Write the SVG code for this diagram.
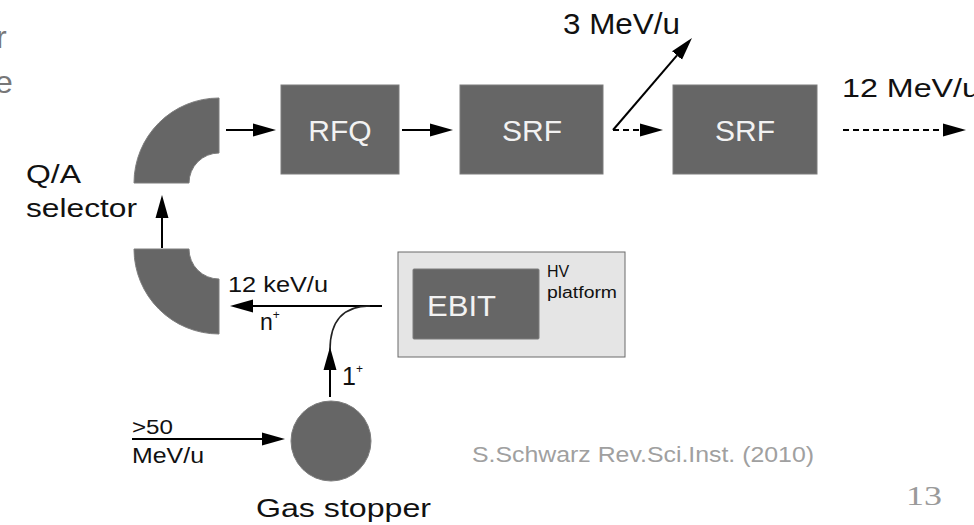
<svg xmlns="http://www.w3.org/2000/svg" width="974" height="525" viewBox="0 0 974 525">
<style>
.lbl{font-family:"Liberation Sans",Arial,Helvetica,sans-serif;fill:#111}
.inbox{font-family:"Liberation Sans",Arial,Helvetica,sans-serif;fill:#f2f2f2;font-size:30px}
.dark{fill:#666666;stroke:#7c7c7c;stroke-width:1}
.ln{stroke:#000;stroke-width:2;fill:none}
.dash{stroke-dasharray:6 4}
.note{font-family:"Liberation Sans",Arial,sans-serif;fill:#a0a0a0}
</style>
<defs>
<marker id="ah" markerUnits="userSpaceOnUse" markerWidth="24" markerHeight="14" refX="0" refY="7" orient="auto">
<path d="M0,0.5 L23,7 L0,13.5 Z" fill="#000"/>
</marker>
</defs>
<rect width="974" height="525" fill="#ffffff"/>

<g id="slide-text-cut">
<text x="-4" y="48" font-family="Liberation Sans,Arial,sans-serif" font-size="32" fill="#777">r</text>
<text x="-5" y="93" font-family="Liberation Sans,Arial,sans-serif" font-size="32" fill="#777">e</text>
</g>

<g id="qa-selector-top">
<path class="dark" d="M134,183 A85,85 0 0 1 219,98 L219,153 A30,30 0 0 0 189,183 Z"/>
</g>
<g id="qa-selector-bottom">
<path class="dark" d="M134,249 A85,85 0 0 0 219,334 L219,279 A30,30 0 0 1 189,249 Z"/>
</g>
<g id="qa-label">
<text class="lbl" x="26" y="183" font-size="25" textLength="55" lengthAdjust="spacingAndGlyphs">Q/A</text>
<text class="lbl" x="26" y="217" font-size="25" textLength="111" lengthAdjust="spacingAndGlyphs">selector</text>
</g>

<g id="rfq">
<rect class="dark" x="281" y="85" width="118" height="89"/>
<text class="inbox" x="340" y="141" text-anchor="middle">RFQ</text>
</g>
<g id="srf1">
<rect class="dark" x="460" y="85" width="143" height="89"/>
<text class="inbox" x="532" y="141" text-anchor="middle">SRF</text>
</g>
<g id="srf2">
<rect class="dark" x="673" y="85" width="144" height="89"/>
<text class="inbox" x="745" y="141" text-anchor="middle">SRF</text>
</g>

<g id="hv-platform">
<rect x="398" y="252" width="227" height="105" fill="#e5e5e5" stroke="#6a6a6a" stroke-width="1"/>
<text class="lbl" x="547" y="277" font-size="16">HV</text>
<text class="lbl" x="547" y="298" font-size="16" textLength="70" lengthAdjust="spacingAndGlyphs">platform</text>
</g>
<g id="ebit">
<rect class="dark" x="413" y="269" width="126" height="70" rx="1"/>
<text class="inbox" x="427" y="316" font-size="31" textLength="69" lengthAdjust="spacingAndGlyphs">EBIT</text>
</g>

<g id="gas-stopper">
<circle cx="331" cy="441" r="40" fill="#666666" stroke="#7c7c7c" stroke-width="1"/>
<text class="lbl" x="256" y="517" font-size="26" textLength="175" lengthAdjust="spacingAndGlyphs">Gas stopper</text>
</g>

<g id="connectors">
<line class="ln" x1="226" y1="130" x2="253" y2="130" marker-end="url(#ah)"/>
<line class="ln" x1="402" y1="130" x2="430" y2="130" marker-end="url(#ah)"/>
<line class="ln dash" x1="613" y1="130" x2="640" y2="130" marker-end="url(#ah)"/>
<line class="ln" x1="613" y1="130" x2="677" y2="55.4" marker-end="url(#ah)"/>
<line class="ln dash" x1="843" y1="130" x2="943" y2="130" marker-end="url(#ah)"/>
<line class="ln" x1="162" y1="248" x2="162" y2="218" marker-end="url(#ah)"/>
<line class="ln" x1="382" y1="306" x2="253" y2="306" marker-end="url(#ah)"/>
<path d="M330,350 C330,322 342,306 370,306" fill="none" stroke="#222" stroke-width="1.6"/>
<line class="ln" x1="330" y1="397" x2="330" y2="370" marker-end="url(#ah)"/>
<line class="ln" x1="132" y1="439" x2="262" y2="439" marker-end="url(#ah)"/>
</g>

<g id="connector-labels">
<text class="lbl" x="563" y="34" font-size="29" textLength="117" lengthAdjust="spacingAndGlyphs">3 MeV/u</text>
<text class="lbl" x="842" y="97" font-size="26" textLength="138" lengthAdjust="spacingAndGlyphs">12 MeV/u</text>
<text class="lbl" x="228" y="292" font-size="22" textLength="100" lengthAdjust="spacingAndGlyphs">12 keV/u</text>
<text class="lbl" x="260" y="330" font-size="23">n<tspan font-size="12" dy="-11">+</tspan></text>
<text class="lbl" x="342" y="385" font-size="25">1<tspan font-size="12" dy="-12">+</tspan></text>
<text class="lbl" x="132" y="434" font-size="20" textLength="41" lengthAdjust="spacingAndGlyphs">&gt;50</text>
<text class="lbl" x="132" y="463" font-size="22" textLength="72" lengthAdjust="spacingAndGlyphs">MeV/u</text>
</g>

<g id="footer">
<text class="note" x="472" y="462" font-size="22" textLength="342" lengthAdjust="spacingAndGlyphs">S.Schwarz Rev.Sci.Inst. (2010)</text>
<text x="906" y="505" font-family="Liberation Serif,'DejaVu Serif',serif" font-size="27" fill="#9a9a9a" textLength="36" lengthAdjust="spacingAndGlyphs">13</text>
</g>
</svg>
